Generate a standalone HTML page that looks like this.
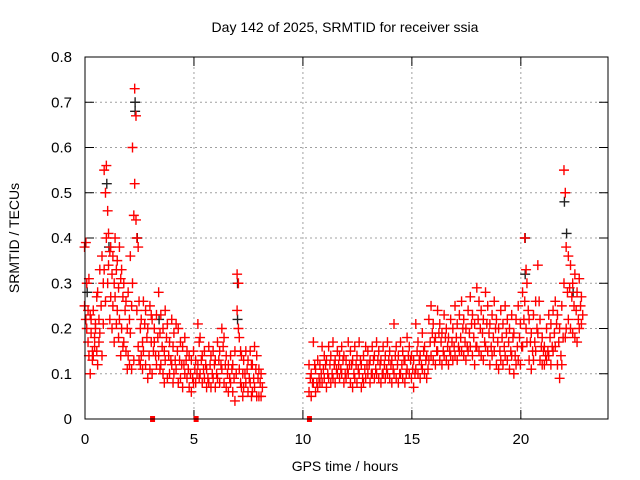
<!DOCTYPE html>
<html><head><meta charset="utf-8"><style>
body{margin:0;background:#fff;}
svg{display:block;font-family:"Liberation Sans",sans-serif;}
</style></head><body>
<svg id="chart" width="640" height="480">
<rect width="640" height="480" fill="#fff"/>
<g id="grid"></g><g id="ticks"></g><g id="marks"></g>
<rect x="85" y="57" width="523" height="362" fill="none" stroke="#000" stroke-width="1"/>
<text x="345" y="32" text-anchor="middle" font-size="14">Day 142 of 2025, SRMTID for receiver ssia</text>
<text x="345" y="471" text-anchor="middle" font-size="14">GPS time / hours</text>
<text transform="translate(19,238) rotate(-90)" text-anchor="middle" font-size="14">SRMTID / TECUs</text>
</svg>
<script>
const xTicks=[0,5,10,15,20];
const yTicks=[0,0.1,0.2,0.3,0.4,0.5,0.6,0.7,0.8];
const yTickLabels=["0","0.1","0.2","0.3","0.4","0.5","0.6","0.7","0.8"];
const hours1=[0,0.1,0.2,0.3,0.4,0.5,0.6,0.7,0.8,0.9,1.0,1.1,1.2,1.3,1.4,1.5,1.6,1.7,1.8,1.9,2.0,2.1,2.2,2.3,2.4,2.5,2.6,2.7,2.8,2.9,3.0,3.1,3.2,3.3,3.4,3.5,3.6,3.7,3.8,3.9,4.0,4.1,4.2,4.3,4.4,4.5,4.6,4.7,4.8,4.9,5.0,5.1,5.2,5.3,5.4,5.5,5.6,5.7,5.8,5.9,6.0,6.1,6.2,6.3,6.4,6.5,6.6,6.7,6.8,6.9,7.0,7.1,7.2,7.3,7.4,7.5,7.6,7.7,7.8,7.9,8.0,8.1];
const vals1=[[0.38,0.39,0.25,0.22],[0.30,0.24,0.20,0.17],[0.31,0.23,0.14,0.10],[0.22,0.15,0.19,0.13],[0.24,0.18,0.14,0.16],[0.20,0.15,0.21,0.27],[0.28,0.22,0.12,0.17],[0.33,0.25,0.19],[0.36,0.30,0.14,0.21],[0.55,0.50,0.33,0.26],[0.56,0.46,0.40,0.30],[0.41,0.37,0.34,0.22],[0.38,0.32,0.27,0.20],[0.36,0.30,0.25,0.17],[0.40,0.33,0.27,0.21],[0.35,0.29,0.24,0.18],[0.38,0.31,0.22,0.14],[0.33,0.27,0.20,0.16],[0.30,0.24,0.17],[0.26,0.20,0.15,0.11],[0.28,0.22,0.14,0.12],[0.36,0.25,0.19,0.11],[0.60,0.45,0.30,0.13],[0.73,0.67,0.52,0.44],[0.40,0.38,0.24,0.16],[0.26,0.20,0.13,0.12],[0.22,0.17,0.14,0.11],[0.26,0.21,0.15],[0.24,0.18,0.12],[0.20,0.14,0.09],[0.25,0.17,0.11,0.23],[0.22,0.15,0.10],[0.20,0.14,0.17],[0.23,0.18,0.12],[0.28,0.19,0.14,0.11],[0.23,0.16,0.12],[0.20,0.15,0.10,0.08],[0.24,0.18,0.13],[0.21,0.14,0.09],[0.17,0.13,0.10],[0.22,0.16,0.12,0.08],[0.19,0.13,0.10],[0.21,0.15,0.11],[0.20,0.13,0.08],[0.17,0.12,0.09],[0.16,0.12,0.07],[0.18,0.13,0.10],[0.15,0.11,0.09],[0.14,0.10,0.07],[0.13,0.09,0.06],[0.15,0.11,0.08],[0.13,0.10,0.08],[0.21,0.17,0.12,0.09],[0.18,0.13,0.10],[0.14,0.11,0.08],[0.15,0.12,0.09],[0.11,0.09,0.07],[0.16,0.12,0.08],[0.14,0.10,0.07],[0.15,0.12,0.09],[0.13,0.10,0.07],[0.17,0.13,0.09],[0.15,0.12,0.08],[0.20,0.16,0.11],[0.18,0.12,0.08],[0.14,0.10,0.07],[0.12,0.09,0.06],[0.14,0.11,0.08],[0.12,0.09,0.06],[0.15,0.10,0.04],[0.32,0.30,0.24,0.20],[0.18,0.15,0.11,0.08],[0.14,0.10,0.07,0.05],[0.13,0.10,0.07],[0.15,0.11,0.08],[0.13,0.09,0.06],[0.15,0.12,0.08,0.05],[0.12,0.09,0.06],[0.16,0.11,0.07],[0.14,0.09,0.05],[0.11,0.08,0.05],[0.10,0.07,0.05]];
const hours2=[10.3,10.4,10.5,10.6,10.7,10.8,10.9,11.0,11.1,11.2,11.3,11.4,11.5,11.6,11.7,11.8,11.9,12.0,12.1,12.2,12.3,12.4,12.5,12.6,12.7,12.8,12.9,13.0,13.1,13.2,13.3,13.4,13.5,13.6,13.7,13.8,13.9,14.0,14.1,14.2,14.3,14.4,14.5,14.6,14.7,14.8,14.9,15.0,15.1,15.2,15.3,15.4,15.5,15.6,15.7,15.8,15.9,16.0,16.1,16.2,16.3,16.4,16.5,16.6,16.7,16.8,16.9,17.0,17.1,17.2,17.3,17.4,17.5,17.6,17.7,17.8,17.9,18.0,18.1,18.2,18.3,18.4,18.5,18.6,18.7,18.8,18.9,19.0,19.1,19.2,19.3,19.4,19.5,19.6,19.7,19.8,19.9,20.0,20.1,20.2,20.3,20.4,20.5,20.6,20.7,20.8,20.9,21.0,21.1,21.2,21.3,21.4,21.5,21.6,21.7,21.8,21.9,22.0,22.1,22.2,22.3,22.4,22.5,22.6,22.7,22.8];
const vals2=[[0.12,0.09,0.06],[0.10,0.08,0.05],[0.17,0.12,0.08],[0.11,0.08,0.06],[0.13,0.09,0.07],[0.12,0.10,0.08],[0.16,0.11,0.08],[0.14,0.12,0.09],[0.13,0.10,0.07],[0.16,0.12,0.09],[0.14,0.10,0.08],[0.17,0.12,0.09],[0.13,0.11,0.08],[0.15,0.12,0.10],[0.14,0.11,0.09],[0.16,0.13,0.10],[0.14,0.10,0.08],[0.13,0.11,0.09],[0.17,0.12,0.10],[0.15,0.12,0.08],[0.13,0.10,0.07],[0.16,0.12,0.09],[0.14,0.11,0.08],[0.17,0.13,0.10],[0.12,0.09,0.07],[0.14,0.11,0.08],[0.16,0.12,0.09],[0.15,0.12,0.10],[0.13,0.10,0.08],[0.16,0.13,0.10],[0.14,0.11,0.09],[0.17,0.13,0.10],[0.15,0.12,0.09],[0.13,0.10,0.08],[0.16,0.12,0.10],[0.14,0.11,0.09],[0.17,0.13,0.10],[0.15,0.12,0.09],[0.13,0.11,0.08],[0.21,0.14,0.10],[0.16,0.12,0.09],[0.14,0.10,0.08],[0.17,0.12,0.10],[0.15,0.13,0.09],[0.13,0.10,0.08],[0.18,0.14,0.11],[0.16,0.13,0.10],[0.14,0.11,0.09],[0.13,0.10,0.07],[0.21,0.15,0.11],[0.17,0.13,0.10],[0.14,0.12,0.09],[0.19,0.15,0.11],[0.16,0.13,0.10],[0.14,0.11,0.09],[0.22,0.17,0.13],[0.25,0.19,0.14],[0.21,0.17,0.13],[0.18,0.15,0.12],[0.24,0.19,0.15],[0.21,0.17,0.13],[0.19,0.15,0.12],[0.23,0.18,0.14],[0.20,0.16,0.13],[0.18,0.15,0.12],[0.22,0.17,0.14],[0.20,0.16,0.13],[0.25,0.18,0.14],[0.21,0.16,0.13],[0.23,0.18,0.15],[0.26,0.20,0.15],[0.22,0.17,0.14],[0.20,0.16,0.13],[0.24,0.19,0.15],[0.27,0.21,0.16],[0.23,0.18,0.14],[0.21,0.16,0.12],[0.29,0.22,0.16],[0.26,0.20,0.15],[0.24,0.19,0.14],[0.22,0.17,0.13],[0.28,0.21,0.16],[0.25,0.19,0.15],[0.21,0.16,0.12],[0.23,0.18,0.14],[0.26,0.20,0.15],[0.22,0.17,0.12],[0.20,0.15,0.11],[0.24,0.18,0.13],[0.21,0.16,0.12],[0.25,0.19,0.14],[0.22,0.17,0.13],[0.20,0.15,0.11],[0.23,0.18,0.14],[0.19,0.14,0.10],[0.22,0.16,0.12],[0.25,0.18,0.13],[0.21,0.16,0.12],[0.28,0.22,0.16],[0.40,0.33,0.26,0.20],[0.30,0.24,0.17],[0.22,0.17,0.13],[0.19,0.15,0.11],[0.23,0.17,0.13],[0.26,0.20,0.15],[0.34,0.26,0.19],[0.22,0.16,0.13],[0.18,0.15,0.12],[0.16,0.14,0.12],[0.20,0.15,0.13],[0.23,0.18,0.14],[0.21,0.16,0.12],[0.24,0.19,0.15],[0.26,0.21,0.16],[0.23,0.17,0.12],[0.20,0.14,0.09],[0.25,0.18,0.12],[0.55,0.50,0.30,0.18],[0.38,0.28,0.20],[0.36,0.29,0.22],[0.34,0.27,0.20],[0.30,0.25,0.19],[0.32,0.24,0.18],[0.28,0.22,0.17],[0.31,0.25,0.20],[0.27,0.23,0.21]];
const blackHours=[0.1,1.0,1.1,2.3,2.3,2.4,3.4,7.0,7.0,20.2,20.2,22.0,22.1,22.4];
const blackVals=[0.28,0.52,0.38,0.70,0.68,0.40,0.22,0.30,0.22,0.40,0.32,0.48,0.41,0.28];
const gapHours=[3.1,5.1,10.3];

const NS='http://www.w3.org/2000/svg';
const L=85,R=608,T=57,B=419,XMAX=24,YMAX=0.8;
function xs(h){return L+h/XMAX*(R-L);}
function ys(v){return B-v/YMAX*(B-T);}
function mk(tag,attrs,parent){const e=document.createElementNS(NS,tag);for(const k in attrs)e.setAttribute(k,attrs[k]);parent.appendChild(e);return e;}
const grid=document.getElementById('grid'),ticks=document.getElementById('ticks'),marks=document.getElementById('marks');
xTicks.forEach((t,i)=>{
  const x=xs(t);
  if(t>0){const g=mk('line',{x1:x,x2:x,y1:T,y2:B,stroke:'#a0a0a0','stroke-dasharray':'2,3'},grid);
  
  }
  mk('line',{x1:x,x2:x,y1:B,y2:B-9,stroke:'#000'},ticks);
  mk('line',{x1:x,x2:x,y1:T,y2:T+9,stroke:'#000'},ticks);
  const tx=mk('text',{x:x,y:444,'text-anchor':'middle','font-size':15},ticks);
  tx.textContent=String(t);
  
  
});
yTicks.forEach((t,i)=>{
  const y=ys(t);
  if(t>0&&t<YMAX){const g=mk('line',{x1:L,x2:R,y1:y,y2:y,stroke:'#a0a0a0','stroke-dasharray':'2,3'},grid);
  
  }
  mk('line',{x1:L,x2:L+9,y1:y,y2:y,stroke:'#000'},ticks);
  mk('line',{x1:R,x2:R-9,y1:y,y2:y,stroke:'#000'},ticks);
  const tx=mk('text',{x:72,y:y+5,'text-anchor':'end','font-size':15},ticks);
  tx.textContent=yTickLabels[i];
  
  
});
function plus(h,v,color,name){
  const x=xs(h),y=ys(v);
  const p=mk('path',{d:`M${x-5},${y}H${x+5}M${x},${y-5}V${y+5}`,stroke:color,'stroke-width':1.4,fill:'none'},marks);
  
  
}
blackHours.forEach((h,i)=>plus(h,blackVals[i],'#222','black-point'));
function drawSeg(hs,vs){hs.forEach((h,i)=>vs[i].forEach((v,j)=>plus(h+(j%2?0.04:-0.02),v,'#f00','red-point')));}
drawSeg(hours1,vals1);drawSeg(hours2,vals2);
gapHours.forEach(h=>{
  const r=mk('rect',{x:xs(h)-2.5,y:B-3,width:5,height:6,fill:'#f00'},marks);
  
  
});
</script>
</body></html>
